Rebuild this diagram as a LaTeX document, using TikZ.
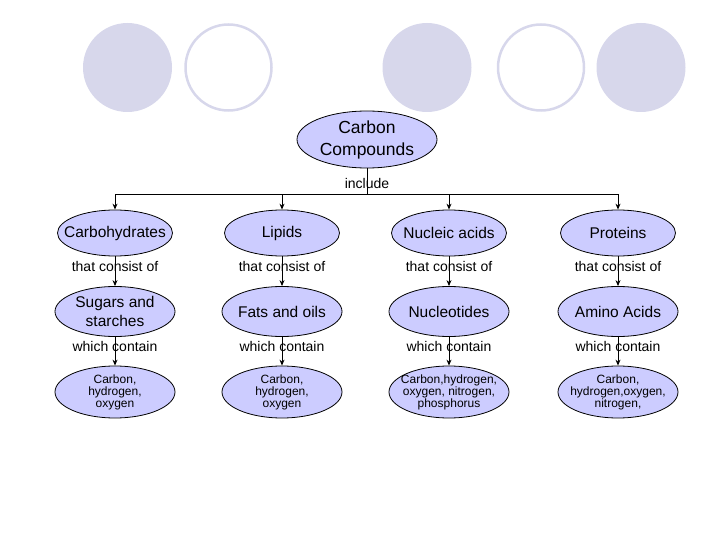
\documentclass[tikz,border=0pt]{standalone}
\usepackage{fontspec}
\setmainfont{Liberation Sans}
\usetikzlibrary{shapes.geometric,arrows.meta}
\definecolor{bubble}{HTML}{CCCCFF}
\definecolor{deco}{HTML}{D7D7EB}

\begin{document}
\begin{tikzpicture}[x=1pt,y=-1pt,
    group/.style={ellipse, draw, line width=0.8pt, fill=bubble, inner xsep=-12pt, inner ysep=0pt,
        minimum width=115pt, minimum height=46pt, font=\fontsize{15.5}{18}\selectfont},
    unit/.style={ellipse, draw, line width=0.8pt, fill=bubble, inner xsep=-6pt, inner ysep=0pt, align=center,
        minimum width=120pt, minimum height=50pt, font=\fontsize{15.5}{19}\selectfont},
    atoms/.style={ellipse, draw, line width=0.8pt, fill=bubble, inner xsep=-8pt, inner ysep=-2pt, align=center,
        minimum width=120pt, minimum height=52pt, font=\fontsize{12}{12}\selectfont},
    link/.style={inner sep=1pt, font=\fontsize{14}{16}\selectfont},
    arr/.style={-{Stealth[length=6pt,width=5pt]}}]
        \useasboundingbox (0,0) rectangle (720,540);

        % Circles
        \fill[deco] (127.5,67.5) circle (44.5pt);
        \draw[deco, line width=2.5pt] (228.5,67.5) circle (43pt);
        \fill[deco] (427,67.5) circle (44.5pt);
        \draw[deco, line width=2.5pt] (541,67.5) circle (43pt);
        \fill[deco] (641,67.5) circle (44.5pt);

        % Nodes
        \node (cc) at (367,139.5) [ellipse, draw, line width=0.8pt, fill=bubble, inner sep=0pt, align=center,
            minimum width=140pt, minimum height=57pt, font=\fontsize{17.5}{22}\selectfont] {Carbon\\Compounds};
        \coordinate (bus) at (367,194);

        \node (carb) at (115,233) [group] {Carbohydrates};
        \node (lip) at (282,233) [group] {Lipids};
        \node (nuc) at (449,233) [group] {Nucleic acids};
        \node (prot) at (618,233) [group] {Proteins};

        \node (sug) at (115,311.5) [unit] {Sugars and\\starches};
        \node (fat) at (282,311.5) [unit] {Fats and oils};
        \node (ntd) at (449,311.5) [unit] {Nucleotides};
        \node (amino) at (618,311.5) [unit] {Amino Acids};

        \node (elsug) at (115,392) [atoms] {Carbon,\\hydrogen,\\oxygen};
        \node (elfat) at (282,392) [atoms] {Carbon,\\hydrogen,\\oxygen};
        \node (elntd) at (449,392) [atoms] {Carbon,hydrogen,\\oxygen, nitrogen,\\phosphorus};
        \node (elamino) at (618,392) [atoms] {Carbon,\\hydrogen,oxygen,\\nitrogen,};

        % Edges
        \draw[line width=0.9pt] (cc) -- node[link, pos=0.6] {include} (bus);
        \draw[arr, line width=0.9pt] (bus) -| (carb.north);
        \draw[arr, line width=0.9pt] (bus) -| (lip.north);
        \draw[arr, line width=0.9pt] (bus) -| (nuc.north);
        \draw[arr, line width=0.9pt] (bus) -| (prot.north);

        \draw[arr, line width=0.9pt] (carb) -- node[link, pos=0.35] {that consist of} (sug);
        \draw[arr, line width=0.9pt] (lip) -- node[link, pos=0.35] {that consist of} (fat);
        \draw[arr, line width=0.9pt] (nuc) -- node[link, pos=0.35] {that consist of} (ntd);
        \draw[arr, line width=0.9pt] (prot) -- node[link, pos=0.35] {that consist of} (amino);

        \draw[arr, line width=0.9pt] (sug) -- node[link, pos=0.35] {which contain} (elsug);
        \draw[arr, line width=0.9pt] (fat) -- node[link, pos=0.35] {which contain} (elfat);
        \draw[arr, line width=0.9pt] (ntd) -- node[link, pos=0.35] {which contain} (elntd);
        \draw[arr, line width=0.9pt] (amino) -- node[link, pos=0.35] {which contain} (elamino);
    \end{tikzpicture}
\end{document}
